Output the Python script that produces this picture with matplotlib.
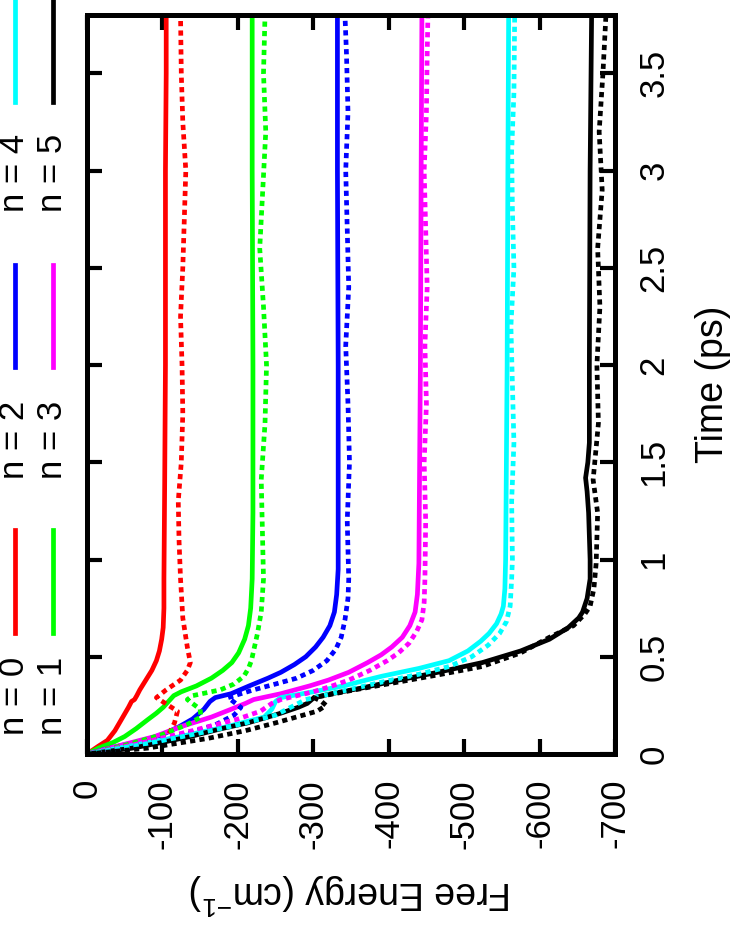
import matplotlib
matplotlib.use("Agg")
import matplotlib.pyplot as plt
from matplotlib.lines import Line2D

plt.rcParams["font.family"] = ["Liberation Sans", "DejaVu Sans"]
plt.rcParams["mathtext.default"] = "regular"
plt.rcParams["axes.unicode_minus"] = False

# data: time (ps) and free energy (cm^-1)
n0_t = [0, 0.04, 0.07, 0.12, 0.18, 0.24, 0.27, 0.28, 0.30, 0.33, 0.38, 0.43, 0.48,
        0.53, 0.59, 0.65, 0.75, 0.9, 1.4, 2.0, 2.5, 3.0, 3.5, 3.8]
n0_fe = [0, -15, -27, -37, -46, -55, -59, -63, -66, -70, -78, -86, -92,
         -96, -99, -101, -102, -102, -103, -104, -104, -104, -105, -105]
n0d_t = [0, 0.05, 0.10, 0.16, 0.22, 0.27, 0.29, 0.33, 0.38, 0.43, 0.47, 0.55, 0.7, 0.9,
         1.1, 1.3, 1.5, 1.75, 2.0, 2.25, 2.5, 2.75, 3.0, 3.25, 3.5, 3.8]
n0d_fe = [0, -60, -108, -116, -120, -100, -92, -105, -124, -133, -137, -133, -127, -124,
          -122, -121, -125, -127, -126, -124, -127, -129, -131, -127, -125, -124]

n1_t = [0, 0.03, 0.06, 0.09, 0.13, 0.175, 0.21, 0.24, 0.27, 0.30, 0.32, 0.35, 0.39,
        0.43, 0.47, 0.52, 0.59, 0.66, 0.75, 0.9, 1.24, 2.0, 3.0, 3.8]
n1_fe = [0, -15, -35, -50, -65, -80, -92, -101, -108, -115, -125, -145, -165,
         -180, -192, -201, -209, -214, -217, -219, -220, -220, -219, -219]
n1d_t = [0, 0.05, 0.1, 0.15, 0.19, 0.23, 0.28, 0.30, 0.33, 0.36, 0.40, 0.44, 0.48,
         0.55, 0.62, 0.73, 0.9, 1.07, 1.41, 1.7, 2.0, 2.3, 2.6, 2.9, 3.2, 3.5, 3.8]
n1d_fe = [0, -55, -100, -132, -151, -150, -133, -140, -177, -195, -208, -214, -218,
          -222, -226, -231, -234, -233, -231, -236, -238, -234, -229, -233, -237, -234, -236]

n2_t = [0, 0.03, 0.07, 0.10, 0.14, 0.18, 0.23, 0.27, 0.29, 0.31, 0.35, 0.39, 0.42,
        0.46, 0.50, 0.55, 0.60, 0.66, 0.73, 0.82, 0.95, 1.5, 2.0, 3.0, 3.8]
n2_fe = [0, -30, -75, -100, -122, -140, -155, -163, -170, -191, -215, -240, -257,
         -275, -290, -303, -313, -322, -328, -331, -333, -333, -333, -332, -332]
n2d_t = [0, 0.05, 0.1, 0.15, 0.2, 0.24, 0.29, 0.33, 0.36, 0.39, 0.43, 0.48, 0.54,
         0.60, 0.69, 0.8, 0.9, 1.2, 1.5, 1.8, 2.1, 2.4, 2.7, 3.0, 3.3, 3.6, 3.8]
n2d_fe = [0, -75, -130, -170, -195, -204, -187, -221, -250, -278, -300, -318, -330,
          -337, -342, -346, -347, -345, -348, -346, -343, -347, -345, -343, -346, -344, -342]

n3_t = [0, 0.04, 0.09, 0.14, 0.19, 0.23, 0.26, 0.28, 0.31, 0.35, 0.38, 0.42, 0.47,
        0.51, 0.55, 0.60, 0.66, 0.73, 0.82, 0.98, 1.5, 2.0, 3.0, 3.8]
n3_fe = [0, -40, -90, -124, -165, -191, -210, -221, -257, -295, -320, -347, -372,
         -390, -404, -418, -428, -435, -438, -440, -441, -442, -443, -444]
n3d_t = [0, 0.05, 0.12, 0.18, 0.22, 0.26, 0.28, 0.32, 0.35, 0.38, 0.43, 0.48, 0.52,
         0.57, 0.63, 0.69, 0.78, 0.9, 1.2, 1.5, 1.8, 2.1, 2.4, 2.7, 3.0, 3.3, 3.6, 3.8]
n3d_fe = [0, -65, -140, -200, -230, -245, -257, -300, -325, -347, -375, -398, -413,
          -427, -437, -444, -447, -448, -449, -447, -450, -448, -451, -449, -447, -450, -451, -452]

n4_t = [0, 0.04, 0.09, 0.14, 0.19, 0.23, 0.27, 0.29, 0.32, 0.35, 0.38, 0.40, 0.44,
        0.48, 0.53, 0.58, 0.62, 0.67, 0.72, 0.76, 0.85, 1.0, 2.0, 3.0, 3.8]
n4_fe = [0, -55, -124, -185, -235, -245, -250, -257, -300, -340, -370, -391, -440,
         -480, -505, -522, -533, -543, -549, -552, -554, -555, -557, -558, -559]
n4d_t = [0, 0.05, 0.1, 0.15, 0.2, 0.25, 0.28, 0.32, 0.37, 0.41, 0.45, 0.50, 0.56,
         0.62, 0.68, 0.76, 0.9, 1.0, 1.3, 1.6, 1.9, 2.2, 2.5, 2.8, 3.1, 3.4, 3.8]
n4d_fe = [0, -75, -140, -200, -250, -275, -290, -335, -391, -440, -480, -510, -532,
          -547, -556, -561, -563, -564, -563, -566, -564, -562, -566, -564, -563, -566, -567]

n5_t = [0, 0.03, 0.06, 0.09, 0.13, 0.16, 0.19, 0.21, 0.24, 0.26, 0.29, 0.31, 0.34,
        0.38, 0.42, 0.47, 0.53, 0.59, 0.65, 0.70, 0.73, 0.8, 0.9, 1.0, 1.24, 1.35,
        1.42, 1.5, 1.6, 2.0, 3.0, 3.8]
n5_fe = [0, -60, -100, -137, -178, -213, -240, -257, -280, -292, -301, -324, -365,
         -413, -465, -524, -575, -613, -638, -652, -657, -663, -667, -667, -665, -663,
         -661, -664, -666, -666, -667, -669]
n5d_t = [0, 0.03, 0.08, 0.12, 0.16, 0.22, 0.25, 0.27, 0.29, 0.33, 0.37, 0.41, 0.45,
         0.52, 0.6, 0.66, 0.72, 0.76, 0.85, 0.98, 1.24, 1.41, 1.7, 2.0, 2.3, 2.6, 2.9,
         3.2, 3.5, 3.8]
n5d_fe = [0, -80, -160, -210, -250, -305, -317, -311, -301, -355, -413, -470, -524,
          -575, -613, -645, -660, -667, -672, -675, -677, -671, -678, -676, -680, -677,
          -683, -679, -684, -688]

labels = ["n = 0", "n = 1", "n = 2", "n = 3", "n = 4", "n = 5"]
colors = ["#ff0000", "#00ff00", "#0000ff", "#ff00ff", "#00ffff", "#000000"]
solid = [(n0_t, n0_fe), (n1_t, n1_fe), (n2_t, n2_fe),
         (n3_t, n3_fe), (n4_t, n4_fe), (n5_t, n5_fe)]
dotted = [(n0d_t, n0d_fe), (n1d_t, n1d_fe), (n2d_t, n2d_fe),
          (n3d_t, n3d_fe), (n4d_t, n4d_fe), (n5d_t, n5d_fe)]

W, H = 734, 939
fig = plt.figure(figsize=(W / 100, H / 100), dpi=100)
# the chart is drawn turned a quarter turn: energy across, time upwards
ax = fig.add_axes([87 / W, 1 - 754 / H, (615 - 87) / W, (754 - 15) / H])

lw = 3.4
for (t, fe), c in zip(solid, colors):
    ax.plot(fe, t, color=c, lw=lw, solid_joinstyle="round")
for (t, fe), c in zip(dotted, colors):
    ax.plot(fe, t, color=c, lw=lw, linestyle=(0, (1.1, 0.9)), dash_capstyle="butt")

ax.set_xlim(0, -700)
ax.set_ylim(0, 3.8)
ax.set_xticks(range(0, -701, -100))
ax.set_yticks([0, 0.5, 1, 1.5, 2, 2.5, 3, 3.5])
ax.set_yticklabels(["0", "0.5", "1", "1.5", "2", "2.5", "3", "3.5"])

for s in ax.spines.values():
    s.set_linewidth(3.6)
ax.tick_params(direction="in", length=11, width=3, labelsize=25,
               top=True, bottom=True, left=True, right=True,
               labelleft=False, labelright=True)
ax.tick_params(axis="x", pad=18, labelrotation=90)
ax.tick_params(axis="y", pad=16, labelrotation=90)
for lab in ax.get_yticklabels():
    lab.set_va("center")

ax.set_xlabel("Free Energy (cm$^{-1}$)", fontsize=27, rotation=180, labelpad=16)
ax.yaxis.set_label_position("right")
ax.set_ylabel("Time (ps)", fontsize=27, rotation=90, labelpad=18)

# key, placed above the plot before the turn (left of it here)
key_x = [15, 53, 15, 53, 15, 53]
key_line = [(530, 633), (530, 633), (265, 367), (265, 367), (0, 102), (0, 102)]
key_text = [735, 735, 479, 479, 212, 212]
for lab, c, x, (y0, y1), yt in zip(labels, colors, key_x, key_line, key_text):
    fig.add_artist(Line2D([x / W, x / W], [1 - y0 / H, 1 - y1 / H],
                          transform=fig.transFigure, color=c, lw=lw))
    fig.text(x / W, 1 - yt / H, lab, rotation=90, ha="center", va="bottom", fontsize=25)

fig.savefig("out.png", dpi=100)
